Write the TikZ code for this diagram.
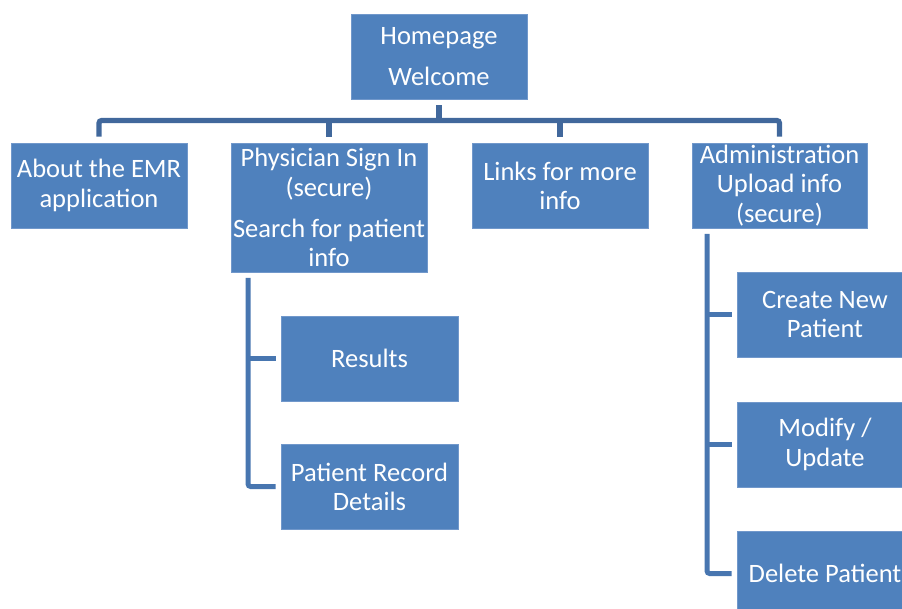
\documentclass[tikz,border=0pt]{standalone}
\usepackage{fontspec}
\setmainfont{Carlito}
\definecolor{boxfill}{HTML}{4F81BD}
\definecolor{boxedge}{HTML}{7198CB}
\definecolor{busline}{HTML}{41689C}
\definecolor{subline}{HTML}{4876B0}
\begin{document}
\begin{tikzpicture}[x=0.75pt,y=-0.75pt,
  box/.style={rectangle, fill=boxfill, draw=boxedge, line width=0.6pt,
    text=white, inner sep=0pt, align=center,
    minimum width=132pt, minimum height=63.75pt,
    font=\fontsize{19.9}{21.9}\selectfont},
  busl/.style={draw=busline, line width=3.9pt, rounded corners=2pt},
  subl/.style={draw=subline, line width=3.75pt, rounded corners=2pt}]
\useasboundingbox (0,0) rectangle (902,609);

\node[box] (home) at (439,56.5) {Homepage\\[9pt]Welcome};
\node[box] (about) at (99,185.5) {About the EMR\\application};
\node[box, minimum width=147pt, minimum height=96.75pt] (phys) at (329,207.5)
  {Physician Sign In\\(secure)\\[9pt]Search for patient\\info};
\node[box] (links) at (560,185.5) {Links for more\\info};
\node[box, minimum width=131.25pt] (admin) at (779.5,185.5) {Administration\\Upload info\\(secure)};
\node[box, minimum width=132.75pt] (res) at (369.5,358.5) {Results};
\node[box, minimum width=132.75pt] (rec) at (369.5,486.5) {Patient Record\\Details};
\node[box] (create) at (825,314.5) {Create New\\Patient};
\node[box] (modify) at (825,444.5) {Modify /\\Update};
\node[box] (delete) at (825,573.5) {Delete Patient};

\coordinate (busy) at (0,120.5);
\coordinate (pv) at (248,272);
\coordinate (av) at (707,228);

% top bus
\draw[busl, shorten <=4.5pt] (home.south) -- (home.south |- busy);
\draw[busl, shorten <=4.5pt, shorten >=4.5pt] (about.north) -- (about.north |- busy) -- (admin.north |- busy) -- (admin.north);
\draw[busl, shorten >=4.5pt] (phys.north |- busy) -- (phys.north);
\draw[busl, shorten >=4.5pt] (links.north |- busy) -- (links.north);

% physician children
\draw[subl, shorten <=4.5pt, shorten >=3.75pt] (pv) -- (pv |- rec.west) -- (rec.west);
\draw[subl, shorten >=3.75pt] (pv |- res.west) -- (res.west);

% admin children
\draw[subl, shorten <=4.5pt, shorten >=3.75pt] (av) -- (av |- delete.west) -- (delete.west);
\draw[subl, shorten >=3.75pt] (av |- create.west) -- (create.west);
\draw[subl, shorten >=3.75pt] (av |- modify.west) -- (modify.west);
\end{tikzpicture}
\end{document}
